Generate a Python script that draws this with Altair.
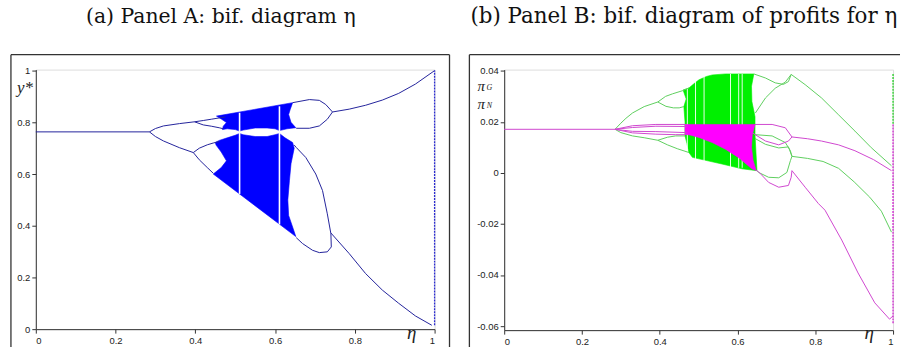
import altair as alt
import pandas as pd

# ---------------- Panel A: y* versus eta ----------------
A_period1 = [(0.0, 0.763), (0.285, 0.763)]
A_up_branch = [(0.285, 0.763), (0.30, 0.776), (0.32, 0.786), (0.36, 0.795), (0.398, 0.802)]
A_up_loop_top = [(0.398, 0.802), (0.42, 0.807), (0.44, 0.812), (0.46, 0.817), (0.475, 0.821)]
A_up_loop_bot = [(0.398, 0.802), (0.42, 0.790), (0.44, 0.785), (0.46, 0.779), (0.47, 0.775)]
A_low_branch = [(0.285, 0.763), (0.30, 0.745), (0.32, 0.728), (0.36, 0.702), (0.395, 0.683)]
A_low_loop_top = [(0.395, 0.683), (0.41, 0.700), (0.43, 0.713), (0.445, 0.720), (0.46, 0.726)]
A_low_loop_bot = [(0.395, 0.683), (0.41, 0.655), (0.43, 0.625), (0.445, 0.603)]
A_right_up_top = [(0.644, 0.876), (0.686, 0.888), (0.711, 0.885), (0.727, 0.869), (0.744, 0.840)]
A_right_up_bot = [(0.653, 0.777), (0.686, 0.777), (0.711, 0.786), (0.731, 0.812), (0.744, 0.840)]
A_rising = [(0.744, 0.840), (0.786, 0.851), (0.827, 0.866), (0.869, 0.886), (0.910, 0.912), (0.952, 0.948), (1.0, 1.0)]
A_egg = [(0.648, 0.712), (0.653, 0.703), (0.677, 0.664), (0.702, 0.600), (0.719, 0.536), (0.731, 0.446),
         (0.740, 0.369), (0.741, 0.318), (0.731, 0.299), (0.711, 0.296), (0.694, 0.305), (0.669, 0.331),
         (0.653, 0.354)]
A_falling = [(0.740, 0.372), (0.786, 0.292), (0.827, 0.215), (0.869, 0.151), (0.910, 0.100), (0.952, 0.051),
             (0.993, 0.015)]
A_chaos_upper = [(0.453, 0.824), (0.644, 0.876), (0.638, 0.850), (0.634, 0.830), (0.640, 0.800), (0.652, 0.779),
                 (0.630, 0.775), (0.611, 0.768), (0.600, 0.775), (0.580, 0.778), (0.550, 0.778), (0.520, 0.770),
                 (0.511, 0.766), (0.500, 0.772), (0.480, 0.775), (0.468, 0.772), (0.470, 0.785), (0.478, 0.799),
                 (0.466, 0.812)]
A_chaos_lower = [(0.445, 0.600), (0.465, 0.625), (0.478, 0.651), (0.465, 0.685), (0.452, 0.712), (0.450, 0.722),
                 (0.460, 0.730), (0.480, 0.740), (0.500, 0.750), (0.511, 0.757), (0.520, 0.752), (0.550, 0.745),
                 (0.580, 0.745), (0.600, 0.752), (0.611, 0.757), (0.625, 0.740), (0.644, 0.722), (0.648, 0.700),
                 (0.640, 0.640), (0.636, 0.574), (0.632, 0.500), (0.634, 0.440), (0.644, 0.395), (0.652, 0.358)]
A_gap_eta = [0.511, 0.611]
A_gap_low = [0.523, 0.405]
A_gap_high = [0.837, 0.862]
A_edge_eta = [1.0]
A_edge_low = [0.015]
A_edge_high = [1.0]

# ---------------- Panel B: profits versus eta ----------------
B_flat = [(0.0, 0.0171), (0.285, 0.0171)]
G_up = [(0.285, 0.0171), (0.30, 0.0195), (0.313, 0.0214), (0.33, 0.0235), (0.36, 0.0260), (0.395, 0.0278)]
G_up_loop_top = [(0.395, 0.0278), (0.415, 0.0300), (0.433, 0.0310), (0.458, 0.0322), (0.475, 0.0333)]
G_up_loop_bot = [(0.395, 0.0278), (0.416, 0.0261), (0.435, 0.0255), (0.450, 0.0255), (0.462, 0.0260)]
G_low = [(0.285, 0.0171), (0.30, 0.0158), (0.33, 0.0145), (0.36, 0.0138), (0.395, 0.0128)]
G_low_loop_top = [(0.395, 0.0128), (0.42, 0.0140), (0.441, 0.0145), (0.465, 0.0145)]
G_low_loop_bot = [(0.395, 0.0128), (0.42, 0.0110), (0.445, 0.0095), (0.475, 0.0080)]
G_r_top1 = [(0.642, 0.0388), (0.672, 0.0372), (0.697, 0.0353), (0.718, 0.0347), (0.731, 0.0358), (0.738, 0.0386)]
G_r_top2 = [(0.646, 0.0235), (0.672, 0.0294), (0.697, 0.0332), (0.723, 0.0356), (0.738, 0.0386)]
G_desc1 = [(0.738, 0.0386), (0.774, 0.0346), (0.816, 0.0294), (0.859, 0.0229), (0.902, 0.0164), (0.944, 0.0099),
           (0.996, 0.0028)]
G_mid1 = [(0.645, 0.0150), (0.689, 0.0145), (0.723, 0.0119), (0.736, 0.0087), (0.740, 0.0065)]
G_mid2 = [(0.645, 0.0135), (0.672, 0.0112), (0.706, 0.0098), (0.731, 0.0102), (0.740, 0.0065)]
G_bot = [(0.650, 0.0009), (0.654, 0.0002), (0.680, -0.0017), (0.706, -0.0019), (0.727, 0.0002), (0.736, 0.0048),
         (0.740, 0.0065)]
G_desc2 = [(0.740, 0.0065), (0.78, 0.0057), (0.82, 0.0045), (0.86, 0.0018), (0.90, -0.0035), (0.94, -0.0095),
           (0.97, -0.0150), (0.996, -0.0232)]
G_chaos = [(0.460, 0.0325), (0.475, 0.0333), (0.490, 0.0352), (0.501, 0.0365), (0.520, 0.0378), (0.535, 0.0384),
           (0.569, 0.0388), (0.642, 0.0388), (0.636, 0.0340), (0.637, 0.0280), (0.645, 0.0220), (0.645, 0.0150),
           (0.650, 0.0009), (0.612, 0.0016), (0.560, 0.0035), (0.484, 0.0061), (0.475, 0.0080), (0.470, 0.0115),
           (0.465, 0.0145), (0.465, 0.0200), (0.462, 0.0260), (0.468, 0.0290)]
N_fan1 = [(0.285, 0.0171), (0.33, 0.0185), (0.39, 0.0190), (0.47, 0.0190)]
N_fan2 = [(0.285, 0.0171), (0.33, 0.0178), (0.39, 0.0183), (0.47, 0.0182)]
N_fan3 = [(0.285, 0.0171), (0.33, 0.0163), (0.39, 0.0162), (0.47, 0.0158)]
N_fan4 = [(0.285, 0.0171), (0.33, 0.0157), (0.39, 0.0152), (0.44, 0.0150), (0.47, 0.0150)]
N_r_up = [(0.645, 0.0190), (0.689, 0.0190), (0.723, 0.0177), (0.740, 0.0141)]
N_r_low = [(0.637, 0.0158), (0.672, 0.0125), (0.706, 0.0110), (0.731, 0.0125), (0.740, 0.0141)]
N_desc1 = [(0.740, 0.0141), (0.78, 0.0134), (0.816, 0.0125), (0.86, 0.0110), (0.902, 0.0087), (0.95, 0.0052),
           (0.996, 0.0009)]
N_bot = [(0.648, 0.0010), (0.654, 0.0005), (0.680, -0.0037), (0.706, -0.0056), (0.731, -0.0049), (0.738, -0.0017),
         (0.740, 0.0009)]
N_desc2 = [(0.740, 0.0009), (0.774, -0.0056), (0.808, -0.0120), (0.825, -0.0146), (0.868, -0.0263),
           (0.910, -0.0392), (0.953, -0.0509), (0.991, -0.0573), (1.0, -0.0560)]
N_chaos = [(0.465, 0.0190), (0.645, 0.0190), (0.638, 0.0150), (0.636, 0.0100), (0.640, 0.0050), (0.648, 0.0010),
           (0.637, 0.0016), (0.603, 0.0060), (0.569, 0.0093), (0.535, 0.0119), (0.501, 0.0139), (0.480, 0.0148),
           (0.465, 0.0152)]
B_gap_eta = [0.471, 0.492, 0.514, 0.582, 0.603, 0.612]
G_edge = [(1.0, 0.0388), (1.0, 0.0190)]
N_edge = [(1.0, 0.0190), (1.0, -0.0590)]

TICKS_X = [0, 0.2, 0.4, 0.6, 0.8, 1]
TICKS_A_Y = [0, 0.2, 0.4, 0.6, 0.8, 1]
TICKS_B_Y = [0.04, 0.02, 0, -0.02, -0.04, -0.06]


def curves_df(curves):
    rows = []
    for name, pts in curves.items():
        for i, (e, v) in enumerate(pts):
            rows.append({"curve": name, "i": i, "eta": e, "val": v})
    return pd.DataFrame(rows)


one = pd.DataFrame({"k": [0]})

axis_common = dict(grid=False, title=None, tickSize=4, tickColor="#333", domainColor="#333",
                   labelFont="Liberation Sans", labelFontSize=9.5, labelColor="#222", labelPadding=2)

TITLE_FONT = "DejaVu Serif"

# ---------- Panel A ----------
WA, HA = 401, 261
xA = alt.X("eta:Q", scale=alt.Scale(domain=[0, 1], nice=False, zero=False),
           axis=alt.Axis(values=TICKS_X, labelExpr="format(datum.value, '.1~f')", **axis_common))
yA = alt.Y("val:Q", scale=alt.Scale(domain=[0, 1.004], nice=False, zero=False),
           axis=alt.Axis(values=TICKS_A_Y, labelExpr="format(datum.value, '.1~f')", **axis_common))

NAVY = "#23239b"
BLUE = "#0000ff"

a_poly = alt.Chart(curves_df({"up": A_chaos_upper, "low": A_chaos_lower})).mark_line(
    interpolate="linear-closed", fill=BLUE, stroke=BLUE, strokeWidth=0.6).encode(
    x=xA, y=yA, detail="curve:N", order="i:Q")

a_gaps = alt.Chart(pd.DataFrame({"eta": A_gap_eta, "val": A_gap_low, "val2": A_gap_high})).mark_rule(
    color="white", strokeWidth=1.6).encode(x=xA, y=yA, y2="val2:Q")

a_lines = alt.Chart(curves_df({
    "p1": A_period1, "ub": A_up_branch, "ult": A_up_loop_top, "ulb": A_up_loop_bot,
    "lb": A_low_branch, "llt": A_low_loop_top, "llb": A_low_loop_bot,
    "rut": A_right_up_top, "rub": A_right_up_bot, "rise": A_rising, "egg": A_egg, "fall": A_falling,
})).mark_line(color=NAVY, strokeWidth=1).encode(x=xA, y=yA, detail="curve:N", order="i:Q")

a_edge = alt.Chart(pd.DataFrame({"eta": A_edge_eta, "val": A_edge_low, "val2": A_edge_high})).mark_rule(
    color="#2b2bd0", strokeWidth=1.3, strokeDash=[2, 1]).encode(x=xA, y=yA, y2="val2:Q")

FRAME = "#333333"
a_frame = [
    alt.Chart(one).mark_rule(color=FRAME, strokeWidth=1.3).encode(
        x=alt.value(-25), x2=alt.value(416), y=alt.value(-15), y2=alt.value(-15)),
    alt.Chart(one).mark_rule(color=FRAME, strokeWidth=1.3).encode(
        x=alt.value(-25), x2=alt.value(-25), y=alt.value(-15), y2=alt.value(279)),
    alt.Chart(one).mark_rule(color=FRAME, strokeWidth=1.3).encode(
        x=alt.value(416), x2=alt.value(416), y=alt.value(-15), y2=alt.value(279)),
    alt.Chart(one).mark_rule(opacity=0, strokeWidth=0.1).encode(
        x=alt.value(-35), x2=alt.value(425), y=alt.value(-68), y2=alt.value(279)),
]
a_texts = [
    alt.Chart(one).mark_text(font=TITLE_FONT, fontSize=20.5, color="#111", align="center",
                             baseline="middle").encode(
        x=alt.value(186), y=alt.value(-53), text=alt.value("(a) Panel A: bif. diagram η")),
    alt.Chart(one).mark_text(font="Liberation Serif", fontStyle="italic", fontSize=17, color="#222",
                             align="center", baseline="middle").encode(
        x=alt.value(-11), y=alt.value(19), text=alt.value("y*")),
    alt.Chart(one).mark_text(font="Liberation Serif", fontStyle="italic", fontSize=19, color="#222",
                             align="center", baseline="alphabetic").encode(
        x=alt.value(378), y=alt.value(271), text=alt.value("η")),
]

panelA = alt.layer(a_poly, a_gaps, a_lines, a_edge, *a_frame, *a_texts).properties(width=WA, height=HA)

# ---------- Panel B ----------
WB, HB = 391, 262
xB = alt.X("eta:Q", scale=alt.Scale(domain=[0, 1], nice=False, zero=False),
           axis=alt.Axis(values=TICKS_X, labelExpr="format(datum.value, '.1~f')", **axis_common))
yB = alt.Y("val:Q", scale=alt.Scale(domain=[-0.0616, 0.0405], nice=False, zero=False),
           axis=alt.Axis(values=TICKS_B_Y,
                         labelExpr="datum.value == 0 ? '0' : (datum.value < 0 ? '-' : '') + format(abs(datum.value), '.2f')",
                         **axis_common))

GREEN_FILL = "#00f000"
GREEN_LINE = "#5fcf5f"
MAG_FILL = "#ff00ff"
MAG_LINE = "#d048d0"

b_gpoly = alt.Chart(curves_df({"g": G_chaos})).mark_line(
    interpolate="linear-closed", fill=GREEN_FILL, stroke=GREEN_FILL, strokeWidth=0.6).encode(
    x=xB, y=yB, detail="curve:N", order="i:Q")

b_gaps = alt.Chart(pd.DataFrame({"eta": B_gap_eta, "val": [0.002] * len(B_gap_eta),
                                 "val2": [0.0388] * len(B_gap_eta)})).mark_rule(
    color="white", strokeWidth=1.0, opacity=0.9).encode(x=xB, y=yB, y2="val2:Q")

b_glines = alt.Chart(curves_df({
    "gu": G_up, "gult": G_up_loop_top, "gulb": G_up_loop_bot, "gl": G_low, "gllt": G_low_loop_top,
    "gllb": G_low_loop_bot, "grt1": G_r_top1, "grt2": G_r_top2, "gd1": G_desc1, "gm1": G_mid1,
    "gm2": G_mid2, "gb": G_bot, "gd2": G_desc2,
})).mark_line(color=GREEN_LINE, strokeWidth=1).encode(x=xB, y=yB, detail="curve:N", order="i:Q")

b_gedge = alt.Chart(curves_df({"ge": G_edge})).mark_line(color="#30d030", strokeWidth=1.4,
                                                         strokeDash=[2, 1]).encode(
    x=xB, y=yB, detail="curve:N", order="i:Q")

b_npoly = alt.Chart(curves_df({"n": N_chaos})).mark_line(
    interpolate="linear-closed", fill=MAG_FILL, stroke=MAG_FILL, strokeWidth=0.6).encode(
    x=xB, y=yB, detail="curve:N", order="i:Q")

b_nlines = alt.Chart(curves_df({
    "flat": B_flat, "f1": N_fan1, "f2": N_fan2, "f3": N_fan3, "f4": N_fan4, "nru": N_r_up, "nrl": N_r_low,
    "nd1": N_desc1, "nb": N_bot, "nd2": N_desc2,
})).mark_line(color=MAG_LINE, strokeWidth=1).encode(x=xB, y=yB, detail="curve:N", order="i:Q")

b_nedge = alt.Chart(curves_df({"ne": N_edge})).mark_line(color="#d030d0", strokeWidth=1.4,
                                                         strokeDash=[2, 1]).encode(
    x=xB, y=yB, detail="curve:N", order="i:Q")

b_frame = [
    alt.Chart(one).mark_rule(color=FRAME, strokeWidth=1.3).encode(
        x=alt.value(-35), x2=alt.value(398), y=alt.value(-15), y2=alt.value(-15)),
    alt.Chart(one).mark_rule(color=FRAME, strokeWidth=1.3).encode(
        x=alt.value(-35), x2=alt.value(-35), y=alt.value(-15), y2=alt.value(279)),
    alt.Chart(one).mark_rule(opacity=0, strokeWidth=0.1).encode(
        x=alt.value(-44), x2=alt.value(398), y=alt.value(-68), y2=alt.value(279)),
]
b_texts = [
    alt.Chart(one).mark_text(font=TITLE_FONT, fontSize=21.5, color="#111", align="left",
                             baseline="middle", limit=432, ellipsis="").encode(
        x=alt.value(-34), y=alt.value(-53), text=alt.value("(b) Panel B: bif. diagram of profits for η")),
    alt.Chart(one).mark_text(font="Liberation Serif", fontStyle="italic", fontSize=15, color="#222",
                             align="center", baseline="middle").encode(
        x=alt.value(-23), y=alt.value(17), text=alt.value("π")),
    alt.Chart(one).mark_text(font="Liberation Serif", fontStyle="italic", fontSize=8, color="#222",
                             align="center", baseline="middle").encode(
        x=alt.value(-15), y=alt.value(19), text=alt.value("G")),
    alt.Chart(one).mark_text(font="Liberation Serif", fontStyle="italic", fontSize=15, color="#222",
                             align="center", baseline="middle").encode(
        x=alt.value(-23), y=alt.value(35), text=alt.value("π")),
    alt.Chart(one).mark_text(font="Liberation Serif", fontStyle="italic", fontSize=8, color="#222",
                             align="center", baseline="middle").encode(
        x=alt.value(-15), y=alt.value(37), text=alt.value("N")),
    alt.Chart(one).mark_text(font="Liberation Serif", fontStyle="italic", fontSize=19, color="#222",
                             align="center", baseline="alphabetic").encode(
        x=alt.value(367), y=alt.value(271), text=alt.value("η")),
]

panelB = alt.layer(b_gpoly, b_gaps, b_glines, b_gedge, b_npoly, b_nlines, b_nedge, *b_frame, *b_texts).properties(
    width=WB, height=HB)

chart = alt.hconcat(panelA, panelB, spacing=0).resolve_scale(x="independent", y="independent").properties(
    padding=0).configure_view(stroke="#9a9a9a", strokeWidth=1).configure(background="white")

chart.save("out.html", embed_options={"renderer": "svg", "actions": False})
